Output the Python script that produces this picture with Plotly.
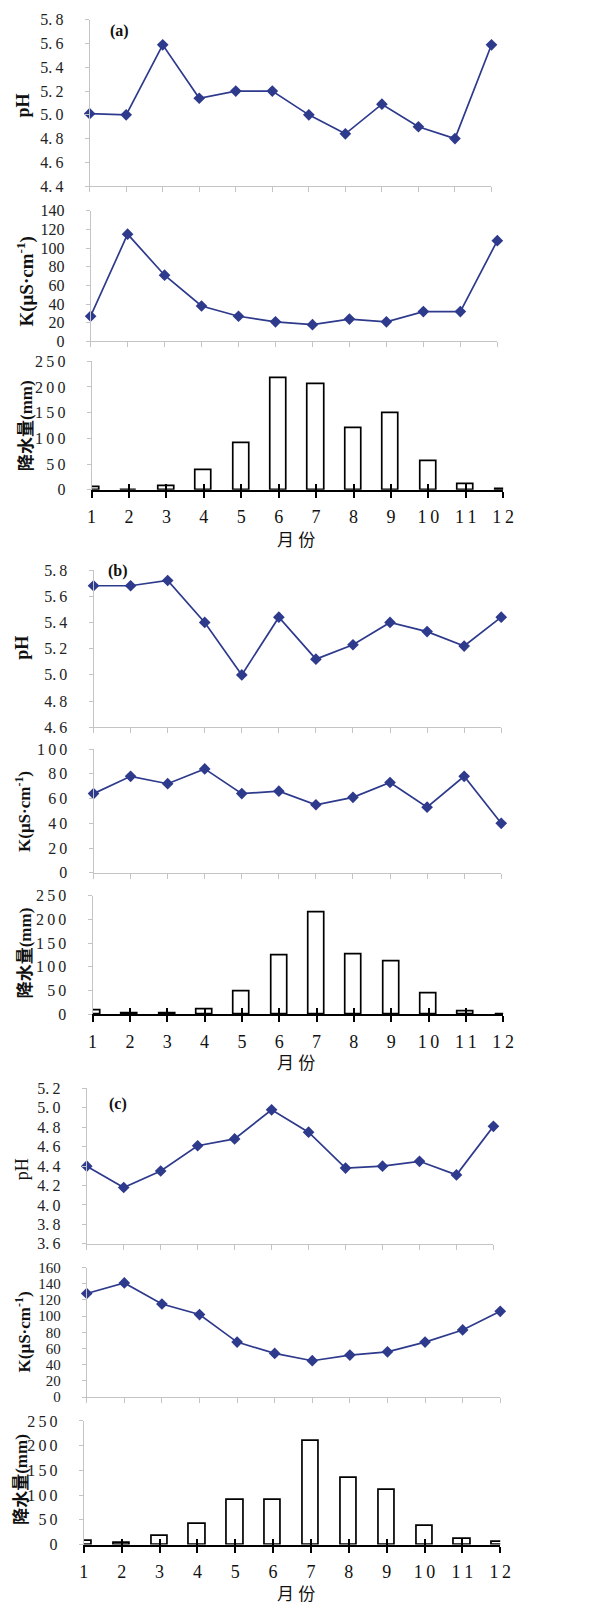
import plotly.graph_objects as go

W, H = 592, 1610

months = list(range(1, 13))
month_labels = ["1", "2", "3", "4", "5", "6", "7", "8", "9", "1\u20090", "1\u20091", "1\u20092"]

ph_a = [5.01, 5.00, 5.59, 5.14, 5.20, 5.20, 5.00, 4.84, 5.09, 4.90, 4.80, 5.59]
k_a = [27, 115, 71, 38, 27, 21, 18, 24, 21, 32, 32, 108]
rain_a = [4.5, 0, 8, 38, 91, 217, 205, 119, 149, 55, 10, 2]

ph_b = [5.68, 5.68, 5.72, 5.40, 5.00, 5.44, 5.12, 5.23, 5.40, 5.33, 5.22, 5.44]
k_b = [64, 78, 72, 84, 64, 66, 55, 61, 73, 53, 78, 40]
rain_b = [7, 2, 2, 10, 47, 123, 214, 126, 112, 44, 5, 0]

ph_c = [4.40, 4.18, 4.35, 4.61, 4.68, 4.98, 4.75, 4.38, 4.40, 4.45, 4.31, 4.81]
k_c = [128, 141, 115, 102, 68, 54, 45, 52, 56, 68, 83, 106]
rain_c = [7, 4, 18, 42, 91, 91, 210, 134, 111, 38, 12, 5]

ph_ticks_a = [4.4, 4.6, 4.8, 5.0, 5.2, 5.4, 5.6, 5.8]
ph_ticks_b = [4.6, 4.8, 5.0, 5.2, 5.4, 5.6, 5.8]
ph_ticks_c = [3.6, 3.8, 4.0, 4.2, 4.4, 4.6, 4.8, 5.0, 5.2]
k_ticks_a = [0, 20, 40, 60, 80, 100, 120, 140]
k_ticks_b = [0, 20, 40, 60, 80, 100]
k_ticks_c = [0, 20, 40, 60, 80, 100, 120, 140, 160]
rain_ticks = [0, 50, 100, 150, 200, 250]

LINE = "#2e3a8c"
GRAY = "#c4c4c4"
SERIF = "Liberation Serif, Noto Sans CJK SC, serif"


def ph_text(v):
    s = f"{v:.1f}"
    return s.replace(".", ".\u2009")


def spaced(v):
    return "\u2009".join(str(v))


panels = [
    dict(kind="line", data=ph_a, xd=(87, 500), yd=(12, 180), rng=(4.4, 5.8),
         tv=ph_ticks_a, tt=[ph_text(v) for v in ph_ticks_a], fs=16),
    dict(kind="line", data=k_a, xd=(88, 506), yd=(205, 337), rng=(0, 140),
         tv=k_ticks_a, tt=[str(v) for v in k_ticks_a], fs=16),
    dict(kind="bar", data=rain_a, xd=(89, 512), yd=(357, 487), rng=(0, 250),
         tv=rain_ticks, tt=[spaced(v) for v in rain_ticks], fs=16),
    dict(kind="line", data=ph_b, xd=(91, 510), yd=(568, 727), rng=(4.6, 5.8),
         tv=ph_ticks_b, tt=[ph_text(v) for v in ph_ticks_b], fs=16),
    dict(kind="line", data=k_b, xd=(91, 510), yd=(749, 874), rng=(0, 100),
         tv=k_ticks_b, tt=[spaced(v) for v in k_ticks_b], fs=16),
    dict(kind="bar", data=rain_b, xd=(90, 512), yd=(897, 1017), rng=(0, 250),
         tv=rain_ticks, tt=[spaced(v) for v in rain_ticks], fs=16),
    dict(kind="line", data=ph_c, xd=(84, 502), yd=(1092, 1249), rng=(3.6, 5.2),
         tv=ph_ticks_c, tt=[ph_text(v) for v in ph_ticks_c], fs=16),
    dict(kind="line", data=k_c, xd=(84, 509), yd=(1273, 1404), rng=(0, 160),
         tv=k_ticks_c, tt=[str(v) for v in k_ticks_c], fs=15),
    dict(kind="bar", data=rain_c, xd=(81, 509), yd=(1428, 1553), rng=(0, 250),
         tv=rain_ticks, tt=[spaced(v) for v in rain_ticks], fs=16),
]

fig = go.Figure()
layout = {}
extra = 10
for i, p in enumerate(panels, start=1):
    xa = "x" if i == 1 else f"x{i}"
    ya = "y" if i == 1 else f"y{i}"
    xkey = "xaxis" if i == 1 else f"xaxis{i}"
    ykey = "yaxis" if i == 1 else f"yaxis{i}"
    xdom = [p["xd"][0] / W, p["xd"][1] / W]
    ydom = [1 - p["yd"][1] / H, 1 - p["yd"][0] / H]
    if p["kind"] == "bar":
        fig.add_trace(go.Bar(x=months, y=p["data"], width=0.43,
                             marker=dict(color="white", line=dict(color="black", width=1.7)),
                             xaxis=xa, yaxis=ya, showlegend=False))
        layout[xkey] = dict(domain=xdom, anchor=ya, range=[1, 12], tickmode="array",
                            tickvals=months, ticktext=month_labels, showline=True,
                            linecolor="black", linewidth=2, ticks="outside", ticklen=6,
                            tickwidth=1.6, tickcolor="black", showgrid=False, zeroline=False,
                            ticklabelstandoff=4,
                            tickfont=dict(family=SERIF, size=18, color="#111"))
        # inside half of the crossing tick marks
        layout[f"xaxis{extra}"] = dict(overlaying=xa, anchor=ya, range=[1, 12], tickmode="array",
                                      tickvals=months, showticklabels=False, showline=False,
                                      ticks="inside", ticklen=6, tickwidth=1.6, tickcolor="black",
                                      showgrid=False, zeroline=False)
        fig.add_trace(go.Scatter(x=months, y=p["data"], mode="lines", opacity=0,
                                 xaxis=f"x{extra}", yaxis=ya, showlegend=False, hoverinfo="skip"))
        extra += 1
    else:
        fig.add_trace(go.Scatter(x=months, y=p["data"], mode="lines+markers",
                                 line=dict(color=LINE, width=1.7),
                                 marker=dict(symbol="diamond", size=9, color=LINE),
                                 cliponaxis=False, xaxis=xa, yaxis=ya, showlegend=False))
        layout[xkey] = dict(domain=xdom, anchor=ya, range=[1, 12], tickmode="array",
                            tickvals=months, showticklabels=False, showline=True,
                            linecolor=GRAY, linewidth=1, ticks="outside", ticklen=5,
                            tickcolor=GRAY, showgrid=False, zeroline=False)
    layout[ykey] = dict(domain=ydom, anchor=xa, range=list(p["rng"]), tickmode="array",
                        tickvals=p["tv"], ticktext=p["tt"], showline=True, linecolor=GRAY,
                        linewidth=1, ticks="outside", ticklen=4, tickcolor=GRAY,
                        showgrid=False, zeroline=False, ticklabelstandoff=18,
                        tickfont=dict(family=SERIF, size=p["fs"], color="#222"))

ann = []


def title(text, x, y, size=18, bold=True):
    t = f"<b>{text}</b>" if bold else text
    ann.append(dict(text=t, x=x / W, y=1 - y / H, xref="paper", yref="paper",
                    textangle=-90, showarrow=False, xanchor="center", yanchor="middle",
                    font=dict(family=SERIF, size=size, color="#111")))


def label(text, x, y, size=16, bold=True):
    t = f"<b>{text}</b>" if bold else text
    ann.append(dict(text=t, x=x / W, y=1 - y / H, xref="paper", yref="paper",
                    showarrow=False, xanchor="center", yanchor="middle",
                    font=dict(family=SERIF, size=size, color="#111")))


K_TITLE = "K(μS·cm<sup>-1</sup>)"
R_TITLE = "降水量(mm)"

title("pH", 18, 99)
title(K_TITLE, 21, 276, size=19)
title(R_TITLE, 22, 422, size=17)
title("pH", 18, 647)
title(K_TITLE, 19, 812, size=17)
title(R_TITLE, 22, 955, size=17)
title("pH", 17, 1174, bold=False)
title(K_TITLE, 18, 1338, size=17)
title(R_TITLE, 17, 1487, size=17)

label("(a)", 118, 23)
label("(b)", 116, 569)
label("(c)", 116, 1108)
label("月 份", 299, 538, size=17, bold=False)
label("月 份", 299, 1067, size=17, bold=False)
label("月 份", 299, 1603, size=17, bold=False)

fig.update_layout(**layout)
fig.update_layout(width=W, height=H, margin=dict(l=0, r=0, t=0, b=0),
                  paper_bgcolor="white", plot_bgcolor="white", annotations=ann,
                  showlegend=False, bargap=0)
fig.write_html("out.html")
